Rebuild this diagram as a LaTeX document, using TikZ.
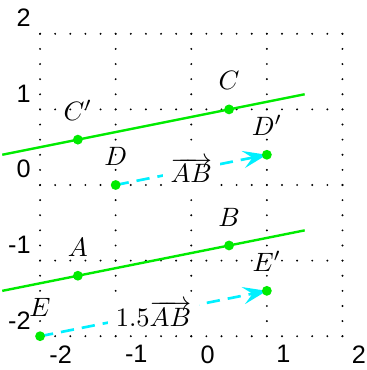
\documentclass[tikz,border=0pt]{standalone}
\usepackage{fontspec}
\newfontfamily\ticksf{Liberation Sans}
\usetikzlibrary{arrows.meta}
\definecolor{ptgreen}{RGB}{0,235,0}
\definecolor{veccyan}{RGB}{0,240,255}
\begin{document}
\begin{tikzpicture}[
  griddots/.style={line width=0.8pt, line cap=round, dash pattern=on 0pt off 0.2cm},
  gline/.style={ptgreen, line width=0.9pt},
  vec/.style={veccyan, line width=1pt, dash pattern=on 5pt off 3pt, -{Stealth[length=9pt,width=6.5pt,inset=3.5pt]}},
  vlbl/.style={fill=white, text=black, inner sep=3pt},
  dot/.style={circle, fill=ptgreen, inner sep=0pt, minimum size=3.7pt},
  ptlbl/.style={above=3.8pt, inner sep=3.33pt},
  xtick/.style={anchor=north west, font=\ticksf\fontsize{9.5pt}{11pt}\selectfont},
  ytick/.style={anchor=south east, yshift=-0.9pt, font=\ticksf\fontsize{9.5pt}{11pt}\selectfont}
]
\useasboundingbox (-2.53,-2.447) rectangle (2.318,2.447);
% dotted grid
\foreach \i in {-2,...,2} {
  \draw[griddots] (\i,-2) -- (\i,2.01);
  \draw[griddots] (-2,\i) -- (2.01,\i);
}
% tick labels
\foreach \i in {-2,...,2} {
  \node[xtick] (xt\i) at (\i,-2) {\i};
  \node[ytick] (yt\i) at (-2,\i) {\i};
}
% points
\coordinate (A) at (-1.5,-1.2);
\coordinate (B) at (0.5,-0.8);
\coordinate (C) at (0.5,1);
\coordinate (Cp) at (-1.5,0.6);
\coordinate (D) at (-1,0);
\coordinate (Dp) at (1,0.4);
\coordinate (E) at (-2,-2);
\coordinate (Ep) at (1,-1.4);
% line ends
\coordinate (L1a) at (-2.5,-1.4);
\coordinate (L1b) at (1.5,-0.6);
\coordinate (L2a) at (-2.5,0.4);
\coordinate (L2b) at (1.5,1.2);
% green lines
\draw[gline] (L1a) -- (L1b);
\draw[gline] (L2a) -- (L2b);
% vectors
\draw[vec] (D) -- node[vlbl] (lab1) {$\overrightarrow{AB}$} (Dp);
\draw[vec] (E) -- node[vlbl] (lab2) {$1.5\overrightarrow{AB}$} (Ep);
% dots
\foreach \p in {A,B,C,Cp,D,Dp,E,Ep} {
  \node[dot] (dot\p) at (\p) {};
}
% point labels
\node[ptlbl] (lA) at (A) {$A$};
\node[ptlbl] (lB) at (B) {$B$};
\node[ptlbl] (lC) at (C) {$C$};
\node[ptlbl] (lCp) at (Cp) {$C'$};
\node[ptlbl] (lD) at (D) {$D$};
\node[ptlbl] (lDp) at (Dp) {$D'$};
\node[ptlbl] (lE) at (E) {$E$};
\node[ptlbl] (lEp) at (Ep) {$E'$};
\end{tikzpicture}
\end{document}
